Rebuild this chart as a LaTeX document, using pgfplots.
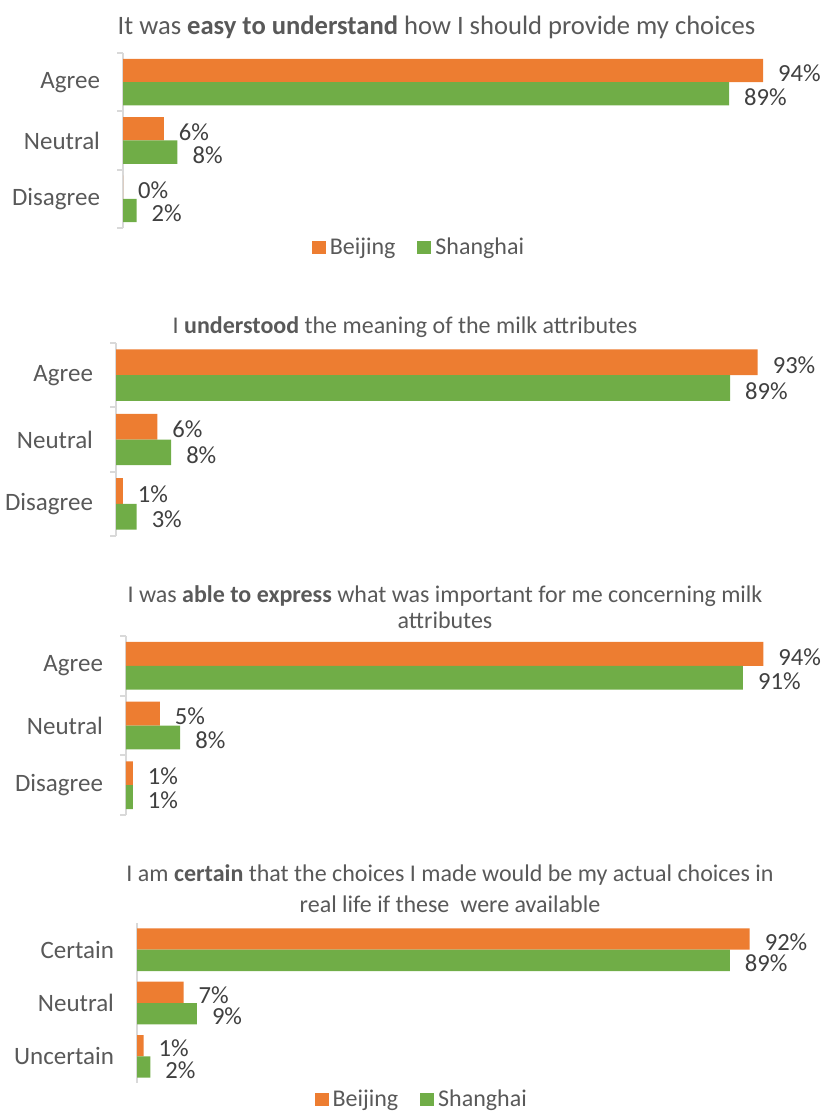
\documentclass[border=0pt]{standalone}
\usepackage{fontspec}
\setmainfont{Carlito}
\usepackage{pgfplots}
\pgfplotsset{compat=1.18}
\definecolor{bj}{HTML}{ED7D31}
\definecolor{sh}{HTML}{70AD47}
\definecolor{txt}{HTML}{595959}
\definecolor{lbl}{HTML}{404040}
\definecolor{axl}{HTML}{D9D9D9}
\newcommand{\fs}{\fontsize{12.5}{14}\selectfont}
\newcommand{\fd}{\fontsize{12.3}{14}\selectfont}
\newcommand{\fl}{\fontsize{12}{14}\selectfont}
\pgfplotsset{
 panel/.style={
  scale only axis, xbar, xmin=0, xmax=100, ymin=-0.5, ymax=2.5, y dir=reverse,
  axis x line=none, axis y line*=left,
  y axis line style={axl, line width=1pt},
  ytick={0,1,2}, major tick length=3pt, tick align=outside,
  major tick style={draw=none},
  yticklabel style={font=\fs, text=txt, xshift=-5pt},
  bar width=0.4,
  nodes near coords={\pgfplotspointmeta\%}, point meta=explicit symbolic,
  every node near coord/.append style={font=\fd, text=lbl, anchor=west, xshift=4pt, yshift=-1.5pt, inner ysep=0pt},
  clip=false,
 },
 bticks/.style={
  extra y ticks={-0.5,0.5,1.5,2.5}, extra y tick labels={},
  extra y tick style={major tick style={draw=axl, line width=1pt}},
 },
 leg/.style={
  legend columns=2,
  legend style={draw=none, fill=none, font=\fl, text=txt, anchor=center,
    /tikz/every even column/.append style={column sep=9pt}},
  legend image code/.code={\fill[##1] (0pt,-3.25pt) rectangle (7pt,3.25pt);},
 },
}
\begin{document}
\begin{tikzpicture}
\path[use as bounding box] (0pt,0pt) rectangle (411pt,-555.5pt);
\node[font=\fontsize{13.3}{15}\selectfont, text=txt] at (218.25pt,-13.5pt) {It was \textbf{easy to understand} how I should provide my choices};
\node[font=\fontsize{12}{14}\selectfont, text=txt] at (202.5pt,-163.5pt) {I \textbf{understood} the meaning of the milk attributes};
\node[font=\fontsize{12}{13}\selectfont, text=txt, align=center] at (222.5pt,-303.5pt) {I was \textbf{able to express} what was important for me concerning milk\\attributes};
\node[font=\fontsize{12}{15.5}\selectfont, text=txt, align=center] at (225pt,-444.25pt) {I am \textbf{certain} that the choices I made would be my actual choices in\\real life if these\ \ were available};

\begin{axis}[panel, bticks, leg, at={(61.5pt,-26.5pt)}, anchor=north west, width=340.5pt, height=87.5pt,
  yticklabels={Agree,Neutral,Disagree},
  legend style={at={(axis description cs:0.436,-0.114)}}]
\addplot[fill=bj, draw=none, bar shift=-0.2] coordinates {(94,0)[94] (6,1)[6] (0,2)[0]};
\addplot[fill=sh, draw=none, bar shift=0.2] coordinates {(89,0)[89] (8,1)[8] (2,2)[2]};
\legend{Beijing,Shanghai}
\end{axis}

\begin{axis}[panel, bticks, at={(58pt,-171.5pt)}, anchor=north west, width=345pt, height=96.5pt,
  yticklabels={Agree,Neutral,Disagree}]
\addplot[fill=bj, draw=none, bar shift=-0.2] coordinates {(93,0)[93] (6,1)[6] (1,2)[1]};
\addplot[fill=sh, draw=none, bar shift=0.2] coordinates {(89,0)[89] (8,1)[8] (3,2)[3]};
\end{axis}

\begin{axis}[panel, bticks, at={(63pt,-318pt)}, anchor=north west, width=339pt, height=89.5pt,
  yticklabels={Agree,Neutral,Disagree}]
\addplot[fill=bj, draw=none, bar shift=-0.2] coordinates {(94,0)[94] (5,1)[5] (1,2)[1]};
\addplot[fill=sh, draw=none, bar shift=0.2] coordinates {(91,0)[91] (8,1)[8] (1,2)[1]};
\end{axis}

\begin{axis}[panel, leg, at={(68.5pt,-461.5pt)}, anchor=north west, width=333pt, height=80pt,
  yticklabels={Certain,Neutral,Uncertain},
  legend style={at={(axis description cs:0.429,-0.106)}}]
\addplot[fill=bj, draw=none, bar shift=-0.2] coordinates {(92,0)[92] (7,1)[7] (1,2)[1]};
\addplot[fill=sh, draw=none, bar shift=0.2] coordinates {(89,0)[89] (9,1)[9] (2,2)[2]};
\legend{Beijing,Shanghai}
\end{axis}
\end{tikzpicture}
\end{document}
